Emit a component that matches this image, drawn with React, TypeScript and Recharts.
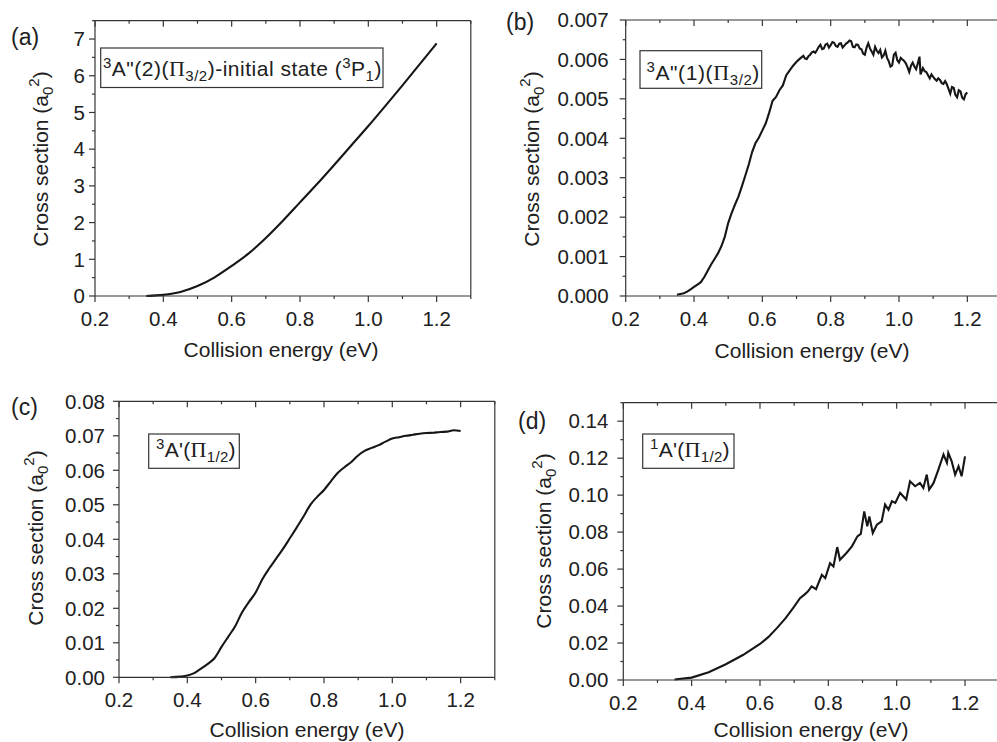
import React from 'react';
import { LineChart, Line, XAxis, YAxis } from 'recharts';

const SANS = '"Liberation Sans", Arial, Helvetica, sans-serif';
const SERIF = '"Liberation Serif", "Times New Roman", serif';
const INK = '#161616';
const AXIS = '#353535';
const TEXT = '#202020';

// ---- collision-energy axis (shared by all panels) ----
const energyMajor = [0.2, 0.4, 0.6, 0.8, 1.0, 1.2];
const energyLabels = ['0.2', '0.4', '0.6', '0.8', '1.0', '1.2'];
const energyMinor = [0.3, 0.5, 0.7, 0.9, 1.1, 1.3];

// ---- (a) 3A"(2)(Π3/2), initial state 3P1 ----
const energyA = [0.35, 0.4, 0.45, 0.5, 0.55, 0.6, 0.65, 0.7, 0.75, 0.8, 0.85, 0.9, 0.95, 1.0, 1.05, 1.1, 1.15, 1.2];
const sigmaA = [0, 0.03, 0.11, 0.27, 0.51, 0.82, 1.16, 1.58, 2.05, 2.55, 3.05, 3.57, 4.1, 4.63, 5.18, 5.74, 6.31, 6.88];
const yMajorA = [0, 1, 2, 3, 4, 5, 6, 7];
const yLabelsA = ['0', '1', '2', '3', '4', '5', '6', '7'];
const yMinorA = [0.5, 1.5, 2.5, 3.5, 4.5, 5.5, 6.5, 7.5];

// ---- (b) 3A"(1)(Π3/2) ----
const energyB = [
  0.35, 0.36, 0.37, 0.38, 0.39, 0.4, 0.41, 0.42, 0.43, 0.44, 0.45, 0.46, 0.47, 0.48, 0.49,
  0.5, 0.51, 0.52, 0.53, 0.54, 0.55, 0.56, 0.57, 0.58, 0.59, 0.6, 0.61, 0.62, 0.63, 0.64,
  0.65, 0.66, 0.67, 0.68, 0.69, 0.7, 0.71,
  0.72, 0.725, 0.73, 0.735, 0.74, 0.745, 0.75, 0.755, 0.76, 0.765, 0.77, 0.775, 0.78, 0.785,
  0.79, 0.795, 0.8, 0.805, 0.81, 0.815, 0.82, 0.825, 0.83, 0.835, 0.84, 0.845, 0.85, 0.855,
  0.86, 0.865, 0.87, 0.875, 0.88, 0.885, 0.89, 0.895, 0.9, 0.905, 0.91, 0.915, 0.92, 0.925,
  0.93, 0.935, 0.94, 0.945, 0.95, 0.955, 0.96, 0.965, 0.97, 0.975, 0.98, 0.985, 0.99, 0.995,
  1.0, 1.005, 1.01, 1.015, 1.02, 1.025, 1.03, 1.035, 1.04, 1.045, 1.05, 1.055, 1.06, 1.063,
  1.07, 1.075, 1.08, 1.085, 1.09, 1.095, 1.1, 1.105, 1.11, 1.115, 1.12, 1.125, 1.13, 1.135,
  1.14, 1.145, 1.15, 1.155, 1.16, 1.165, 1.17, 1.175, 1.18, 1.185, 1.19, 1.195, 1.2,
];
const sigmaB = [
  0.00003, 0.00005, 0.00007, 0.00011, 0.00017, 0.00023, 0.00029, 0.00035, 0.00048, 0.00064,
  0.0008, 0.00094, 0.00108, 0.00126, 0.0015, 0.00185, 0.0021, 0.00232, 0.00252, 0.00278,
  0.00305, 0.00333, 0.00365, 0.00388, 0.00402, 0.0042, 0.00438, 0.00465, 0.00495, 0.00505,
  0.00522, 0.00534, 0.0056, 0.00572, 0.00584, 0.00594, 0.00602,
  0.00609, 0.00602, 0.00601, 0.00608, 0.00612, 0.00618, 0.0062, 0.00617, 0.00624, 0.00632,
  0.00637, 0.00626, 0.00628, 0.00638, 0.0064, 0.0063, 0.00636, 0.00644, 0.00642, 0.00634,
  0.00632, 0.0064, 0.00641, 0.0063, 0.00635, 0.0064, 0.00643, 0.00648, 0.00646, 0.00632,
  0.00631, 0.00638, 0.00637, 0.00628, 0.00626, 0.00615, 0.00612, 0.0063, 0.00641, 0.00628,
  0.0062, 0.00612, 0.00632, 0.00622, 0.00616, 0.00624, 0.00605, 0.0061, 0.00622, 0.00604,
  0.00595, 0.00582, 0.00585, 0.00612, 0.00617, 0.00598, 0.00592, 0.00604, 0.006, 0.00596,
  0.0059, 0.0058, 0.00568, 0.00584, 0.00592, 0.00582, 0.00575, 0.0059, 0.00607, 0.00562,
  0.00578, 0.0057, 0.00568, 0.0056, 0.00552, 0.00562, 0.00556, 0.0055, 0.00546, 0.00552,
  0.00548, 0.0054, 0.00538, 0.00545, 0.00537, 0.00525, 0.00513, 0.0053, 0.00528, 0.0051,
  0.00504, 0.00522, 0.00519, 0.00503, 0.00499, 0.00512, 0.00516,
];
const yMajorB = [0, 0.001, 0.002, 0.003, 0.004, 0.005, 0.006, 0.007];
const yLabelsB = ['0.000', '0.001', '0.002', '0.003', '0.004', '0.005', '0.006', '0.007'];
const yMinorB = [0.0005, 0.0015, 0.0025, 0.0035, 0.0045, 0.0055, 0.0065];

// ---- (c) 3A'(Π1/2) ----
const energyC = [
  0.35, 0.38, 0.4, 0.42, 0.44, 0.46, 0.48, 0.5, 0.52, 0.54, 0.56, 0.58, 0.6, 0.62, 0.64, 0.66,
  0.68, 0.7, 0.72, 0.74, 0.76, 0.78, 0.8, 0.82, 0.84, 0.86, 0.88, 0.9, 0.92, 0.94, 0.96, 0.98,
  1.0, 1.02, 1.04, 1.06, 1.08, 1.1, 1.12, 1.14, 1.16, 1.18, 1.2,
];
const sigmaC = [
  0.0, 0.0002, 0.0005, 0.0012, 0.0025, 0.0039, 0.0056, 0.0088, 0.0118, 0.0148, 0.0188, 0.0218,
  0.0246, 0.0285, 0.0316, 0.0344, 0.0372, 0.0403, 0.0434, 0.0466, 0.05, 0.0523, 0.0543, 0.0568,
  0.0592, 0.0609, 0.0624, 0.0643, 0.0657, 0.0665, 0.0673, 0.0683, 0.0692, 0.0696, 0.07, 0.0703,
  0.0706, 0.0708, 0.0709, 0.0711, 0.0712, 0.0716, 0.0714,
];
const yMajorC = [0, 0.01, 0.02, 0.03, 0.04, 0.05, 0.06, 0.07, 0.08];
const yLabelsC = ['0.00', '0.01', '0.02', '0.03', '0.04', '0.05', '0.06', '0.07', '0.08'];
const yMinorC = [0.005, 0.015, 0.025, 0.035, 0.045, 0.055, 0.065, 0.075];

// ---- (d) 1A'(Π1/2) ----
const energyD = [
  0.35, 0.4, 0.45, 0.5, 0.55, 0.6, 0.625, 0.65, 0.675, 0.7, 0.717, 0.73, 0.74, 0.751, 0.764,
  0.781, 0.791, 0.805, 0.815, 0.826, 0.834, 0.853, 0.869, 0.885, 0.895, 0.905, 0.914, 0.92,
  0.93, 0.942, 0.956, 0.966, 0.976, 0.986, 0.996, 1.01, 1.028, 1.039, 1.054, 1.068, 1.078,
  1.088, 1.095, 1.108, 1.122, 1.137, 1.147, 1.151, 1.161, 1.171, 1.181, 1.19, 1.2,
];
const sigmaD = [
  0.0003, 0.0013, 0.0042, 0.0085, 0.0135, 0.0195, 0.0233, 0.0282, 0.0335, 0.0397, 0.0443,
  0.0462, 0.0478, 0.0506, 0.0491, 0.0569, 0.0551, 0.0632, 0.0614, 0.0719, 0.065, 0.0687,
  0.0723, 0.0777, 0.079, 0.0912, 0.0831, 0.0885, 0.0795, 0.084, 0.0858, 0.0949, 0.0921,
  0.0967, 0.0958, 0.1012, 0.0976, 0.1075, 0.1048, 0.1066, 0.1039, 0.1111, 0.103, 0.1066,
  0.1138, 0.122, 0.1175, 0.1229, 0.1183, 0.1111, 0.1156, 0.1102, 0.121,
];
const yMajorD = [0, 0.02, 0.04, 0.06, 0.08, 0.1, 0.12, 0.14];
const yLabelsD = ['0.00', '0.02', '0.04', '0.06', '0.08', '0.10', '0.12', '0.14'];
const yMinorD = [0.01, 0.03, 0.05, 0.07, 0.09, 0.11, 0.13, 0.15];

const zip = (xs: number[], ys: number[]) => xs.map((e, i) => ({ e, s: ys[i] }));

type Side = 'bottom' | 'top' | 'left' | 'right';

// Tick renderer drawing long major / short minor tick marks, with labels on major ticks.
function makeTick(side: Side, majors: number[], labels: string[] | null, gap: number) {
  return (props: any) => {
    const { x, y, payload } = props;
    const v = payload.value;
    const idx = majors.findIndex((m) => Math.abs(m - v) < 1e-9);
    const len = idx >= 0 ? 6 : 3;
    let x2 = x;
    let y2 = y;
    if (side === 'bottom' || side === 'top') y2 = y + len;
    else x2 = x - len;
    let label: React.ReactNode = null;
    if (labels && idx >= 0) {
      if (side === 'bottom') {
        label = (
          <text x={x} y={y + 30} textAnchor="middle" fontFamily={SANS} fontSize={20.5} fill={TEXT}>
            {labels[idx]}
          </text>
        );
      } else if (side === 'left') {
        label = (
          <text x={x - gap} y={y + 7.3} textAnchor="end" fontFamily={SANS} fontSize={20.5} fill={TEXT}>
            {labels[idx]}
          </text>
        );
      }
    }
    return (
      <g>
        <line x1={x} y1={y} x2={x2} y2={y2} stroke={AXIS} strokeWidth={1.2} />
        {label}
      </g>
    );
  };
}

type Rect = { left: number; right: number; top: number; bottom: number };

type PanelProps = {
  rect: Rect;
  data: { e: number; s: number }[];
  yMax: number;
  yMajor: number[];
  yMinor: number[];
  yLabels: string[];
  yGap: number;
  curve: 'monotone' | 'linear';
};

const CW = 1010;
const CH = 742;
// thickness reserved by the bottom / left axes (kept minimal; labels overflow outward)
const AX = 1;
const xTicks = [...energyMajor, ...energyMinor].sort((a, b) => a - b);

function Panel({ rect, data, yMax, yMajor, yMinor, yLabels, yGap, curve }: PanelProps) {
  const margin = {
    top: rect.top,
    left: rect.left - AX,
    right: CW - rect.right,
    bottom: CH - rect.bottom - AX,
  };
  const yTicks = [...yMajor, ...yMinor].sort((a, b) => a - b);
  const axisLine = { stroke: AXIS, strokeWidth: 1.2 };
  return (
    <div style={{ position: 'absolute', left: 0, top: 0 }}>
      <LineChart width={CW} height={CH} data={data} margin={margin}>
        <XAxis
          xAxisId="b"
          dataKey="e"
          type="number"
          domain={[0.2, 1.3]}
          ticks={xTicks}
          interval={0}
          height={AX}
          tickSize={0}
          tickMargin={0}
          tickLine={false}
          axisLine={axisLine}
          tick={makeTick('bottom', energyMajor, energyLabels, 0)}
        />
        <XAxis
          xAxisId="t"
          orientation="top"
          mirror
          dataKey="e"
          type="number"
          domain={[0.2, 1.3]}
          ticks={xTicks}
          interval={0}
          height={AX}
          tickSize={0}
          tickMargin={0}
          tickLine={false}
          axisLine={axisLine}
          tick={makeTick('top', energyMajor, null, 0)}
        />
        <YAxis
          yAxisId="l"
          type="number"
          domain={[0, yMax]}
          ticks={yTicks}
          interval={0}
          width={AX}
          tickSize={0}
          tickMargin={0}
          tickLine={false}
          axisLine={axisLine}
          tick={makeTick('left', yMajor, yLabels, yGap)}
        />
        <YAxis
          yAxisId="r"
          orientation="right"
          mirror
          type="number"
          domain={[0, yMax]}
          ticks={yTicks}
          interval={0}
          width={AX}
          tickSize={0}
          tickMargin={0}
          tickLine={false}
          axisLine={axisLine}
          tick={makeTick('right', yMajor, null, 0)}
        />
        <Line
          xAxisId="b"
          yAxisId="l"
          dataKey="s"
          type={curve}
          stroke={INK}
          strokeWidth={2.1}
          dot={false}
          activeDot={false}
          isAnimationActive={false}
        />
      </LineChart>
    </div>
  );
}

function YTitle({ x, cy }: { x: number; cy: number }) {
  return (
    <text transform={`translate(${x} ${cy}) rotate(-90)`} textAnchor="middle" fontFamily={SANS} fontSize={21} fill={TEXT}>
      Cross section (a
      <tspan fontSize={15} dy={5}>0</tspan>
      <tspan fontSize={15} dy={-14}>2</tspan>
      <tspan dy={9}>)</tspan>
    </text>
  );
}

function XTitle({ cx, y }: { cx: number; y: number }) {
  return (
    <text x={cx} y={y} textAnchor="middle" fontFamily={SANS} fontSize={21} fill={TEXT}>
      Collision energy (eV)
    </text>
  );
}

function PanelTag({ x, y, tag }: { x: number; y: number; tag: string }) {
  return (
    <text x={x} y={y} fontFamily={SANS} fontSize={23} fill={TEXT}>
      {tag}
    </text>
  );
}

const SUP = { fontSize: 15, dy: -8 };

function Overlay() {
  return (
    <svg width={997} height={742} style={{ position: 'absolute', left: 0, top: 0 }}>
      <PanelTag x={11} y={45} tag="(a)" />
      <PanelTag x={506} y={30} tag="(b)" />
      <PanelTag x={11} y={415} tag="(c)" />
      <PanelTag x={518} y={428.5} tag="(d)" />

      <YTitle x={48} cy={159} />
      <YTitle x={539} cy={159} />
      <YTitle x={43} cy={538} />
      <YTitle x={551} cy={541} />

      <XTitle cx={281} y={357} />
      <XTitle cx={812} y={358} />
      <XTitle cx={307} y={736.5} />
      <XTitle cx={811} y={736.5} />

      {/* state labels */}
      <rect x={100.7} y={48} width={282.3} height={39.5} fill="#fff" stroke={AXIS} strokeWidth={1.2} />
      <text x={103} y={76} fontFamily={SANS} fontSize={21} fill={TEXT} letterSpacing={0.5}>
        <tspan {...SUP}>3</tspan>
        <tspan dy={8}>A"(2)(</tspan>
        <tspan fontFamily={SERIF} fontSize={22}>Π</tspan>
        <tspan fontSize={15} dy={5}>3/2</tspan>
        <tspan dy={-5}>)-initial state (</tspan>
        <tspan {...SUP}>3</tspan>
        <tspan dy={8}>P</tspan>
        <tspan fontSize={15} dy={5}>1</tspan>
        <tspan dy={-5}>)</tspan>
      </text>

      <rect x={640} y={50.7} width={121.7} height={37.6} fill="#fff" stroke={AXIS} strokeWidth={1.2} />
      <text x={646.5} y={80} fontFamily={SANS} fontSize={21} fill={TEXT} letterSpacing={0.6}>
        <tspan {...SUP}>3</tspan>
        <tspan dy={8}>A"(1)(</tspan>
        <tspan fontFamily={SERIF} fontSize={22}>Π</tspan>
        <tspan fontSize={15} dy={5}>3/2</tspan>
        <tspan dy={-5}>)</tspan>
      </text>

      <rect x={148.7} y={434} width={90.6} height={34.3} fill="#fff" stroke={AXIS} strokeWidth={1.2} />
      <text x={156} y={457.3} fontFamily={SANS} fontSize={21} fill={TEXT} letterSpacing={0.3}>
        <tspan {...SUP}>3</tspan>
        <tspan dy={8}>A'(</tspan>
        <tspan fontFamily={SERIF} fontSize={22}>Π</tspan>
        <tspan fontSize={15} dy={5}>1/2</tspan>
        <tspan dy={-5}>)</tspan>
      </text>

      <rect x={642.7} y={434} width={91.3} height={34.3} fill="#fff" stroke={AXIS} strokeWidth={1.2} />
      <text x={650} y={457.3} fontFamily={SANS} fontSize={21} fill={TEXT} letterSpacing={0.3}>
        <tspan {...SUP}>1</tspan>
        <tspan dy={8}>A'(</tspan>
        <tspan fontFamily={SERIF} fontSize={22}>Π</tspan>
        <tspan fontSize={15} dy={5}>1/2</tspan>
        <tspan dy={-5}>)</tspan>
      </text>
    </svg>
  );
}

export default function App() {
  return (
    <div
      style={{
        position: 'absolute',
        left: 0,
        top: 0,
        width: 997,
        height: 742,
        overflow: 'hidden',
        background: '#fff',
      }}
    >
      <Panel
        rect={{ left: 95, right: 470.8, top: 20.7, bottom: 296 }}
        data={zip(energyA, sigmaA)}
        yMax={7.5}
        yMajor={yMajorA}
        yMinor={yMinorA}
        yLabels={yLabelsA}
        yGap={10}
        curve="monotone"
      />
      <Panel
        rect={{ left: 625.7, right: 1001.5, top: 20, bottom: 296 }}
        data={zip(energyB, sigmaB)}
        yMax={0.007}
        yMajor={yMajorB}
        yMinor={yMinorB}
        yLabels={yLabelsB}
        yGap={17}
        curve="linear"
      />
      <Panel
        rect={{ left: 119, right: 494.8, top: 401.3, bottom: 677.3 }}
        data={zip(energyC, sigmaC)}
        yMax={0.08}
        yMajor={yMajorC}
        yMinor={yMinorC}
        yLabels={yLabelsC}
        yGap={14}
        curve="monotone"
      />
      <Panel
        rect={{ left: 623.3, right: 999.2, top: 402.7, bottom: 680 }}
        data={zip(energyD, sigmaD)}
        yMax={0.15}
        yMajor={yMajorD}
        yMinor={yMinorD}
        yLabels={yLabelsD}
        yGap={15}
        curve="linear"
      />
      <Overlay />
    </div>
  );
}
